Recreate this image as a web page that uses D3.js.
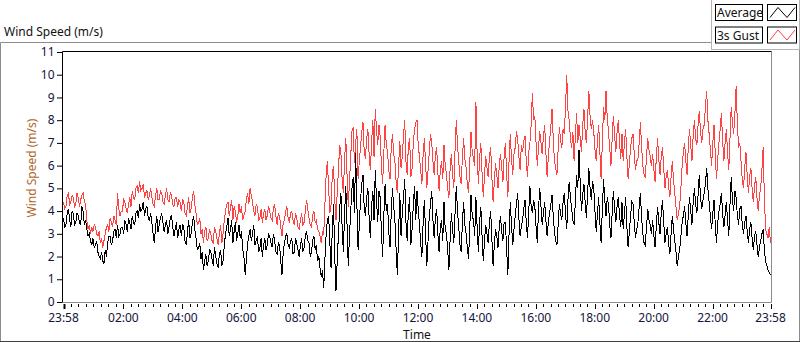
<!DOCTYPE html>
<html>
<head>
<meta charset="utf-8">
<script src="https://cdn.jsdelivr.net/npm/d3@7"></script>
<style>
  body { margin: 0; background: #fff; }
  svg { display: block; font-family: "Segoe UI", "Noto Sans", "Open Sans", sans-serif; }
</style>
</head>
<body>
<div id="chart"></div>
<script>
// series names
var seriesNames = ["Average", "3s Gust"];

// one value every 2.5 minutes, starting 23:58 (one row per hour)
var average = [
    3.7,3.3,3.4,3.9,4.1,3.6,3.3,4.0,3.9,3.4,3.5,3.9,3.8,3.5,3.4,4.2,4.0,3.4,3.6,3.2,2.9,3.0,2.7,2.5,
    2.8,2.4,2.5,2.7,2.2,2.0,1.9,2.2,1.8,1.7,2.3,2.0,2.6,2.9,2.9,2.5,2.7,3.1,3.2,2.8,3.4,2.9,3.0,3.3,
    3.3,3.0,3.6,3.4,3.1,3.7,3.5,3.2,3.8,3.5,3.4,3.9,4.0,3.7,4.3,4.0,4.1,4.4,3.8,4.1,4.2,3.7,3.6,3.9,
    3.5,3.0,2.6,3.3,3.8,3.1,3.4,3.7,3.9,3.5,3.1,3.4,3.6,3.0,3.3,3.7,3.8,3.3,2.9,3.2,3.5,2.8,3.2,3.4,
    2.9,3.4,3.3,2.7,2.5,3.1,3.6,2.8,3.0,3.5,3.8,3.2,2.8,2.3,2.4,2.6,1.9,2.2,1.4,1.8,2.1,1.6,1.8,2.3,
    2.2,1.9,1.6,2.4,2.0,1.7,1.5,2.1,2.3,1.6,1.8,2.5,3.0,3.3,3.7,2.9,3.2,3.6,2.6,3.1,3.5,2.7,3.0,3.4,
    2.8,3.1,2.3,2.0,1.2,1.9,2.6,2.9,3.2,2.7,3.0,3.4,2.5,2.7,2.9,2.2,2.4,2.8,2.0,2.5,2.8,2.3,2.5,3.0,
    2.9,2.6,2.4,3.0,2.7,2.2,2.1,2.6,2.5,1.8,1.2,2.2,2.6,2.9,3.0,2.5,2.4,2.7,2.8,2.1,2.2,2.8,2.6,2.3,
    2.0,2.5,2.8,2.2,2.4,2.9,3.1,2.7,2.6,2.0,2.2,2.7,2.9,2.3,2.5,1.8,2.0,1.5,1.1,1.4,0.6,1.9,3.0,3.6,
    3.8,2.6,1.5,3.2,4.3,2.0,0.5,1.8,3.0,4.1,4.8,3.3,2.2,3.9,5.1,3.4,1.6,2.9,4.0,5.0,5.5,3.9,6.6,4.4,
    2.3,3.4,4.5,5.2,5.6,4.1,3.8,4.6,5.0,3.7,2.8,4.2,4.9,3.6,5.8,4.5,3.5,4.9,4.6,3.1,2.0,3.8,5.2,4.0,
    4.3,3.1,2.4,3.9,5.0,4.2,3.6,2.3,1.2,3.0,4.8,2.9,3.9,4.6,5.4,3.5,2.7,4.0,4.6,2.5,3.2,4.3,5.1,3.6,
    4.9,4.1,3.4,2.6,2.0,3.5,4.5,3.0,1.6,2.7,3.8,4.3,4.9,3.6,2.8,3.7,4.1,3.0,2.2,3.3,3.6,2.7,4.4,3.2,
    3.0,2.3,1.4,2.8,3.9,3.2,2.6,3.9,5.1,4.0,3.3,2.5,2.2,3.5,4.4,3.4,3.0,2.4,1.9,3.3,4.7,3.8,3.6,2.9,
    4.6,3.3,2.2,3.5,4.2,2.9,1.8,2.7,3.4,3.0,2.6,3.5,4.0,2.8,1.6,2.5,3.2,2.9,2.4,3.3,3.8,3.1,2.7,3.5,
    3.5,2.4,1.2,3.0,4.4,3.4,2.5,3.2,3.8,4.3,4.8,3.7,2.9,3.3,3.6,4.1,4.5,3.5,2.8,3.9,5.1,4.2,3.9,4.5,
    4.2,3.3,2.6,4.1,5.0,4.2,3.4,3.9,4.4,3.6,2.9,3.5,3.9,4.3,4.7,3.8,3.1,2.7,2.5,3.4,4.3,3.9,3.6,4.4,
    4.8,3.9,3.2,4.5,5.3,4.6,4.1,3.6,3.4,4.4,5.6,5.0,6.7,5.2,4.0,4.7,5.2,4.4,3.7,4.8,5.9,5.0,4.5,5.3,
    5.0,4.0,3.1,3.9,4.6,3.5,2.6,4.1,5.4,4.5,3.8,4.6,4.3,3.4,2.8,3.9,4.9,4.1,3.5,4.2,4.6,3.8,3.3,4.4,
    3.2,3.9,4.6,3.3,2.4,3.1,3.8,4.4,4.3,3.5,2.8,3.2,3.5,4.2,4.8,3.7,3.0,2.6,2.5,3.3,4.1,3.6,3.4,3.0,
    3.6,2.9,2.4,3.4,4.2,3.5,3.0,3.9,4.5,3.5,2.6,3.0,3.3,2.6,2.1,3.0,3.8,3.2,2.7,2.2,1.6,2.0,2.3,2.9,
    3.5,3.8,4.2,3.5,2.9,3.8,4.6,4.0,3.4,4.4,5.0,4.3,3.9,4.7,5.6,4.6,4.1,4.5,4.8,5.2,5.9,5.0,4.4,3.8,
    3.2,3.9,4.5,3.4,2.6,3.5,4.0,4.3,4.8,3.9,3.3,3.8,4.4,3.6,2.9,4.3,5.5,4.5,4.0,4.9,4.6,3.8,3.4,4.1,
    4.2,3.4,3.0,3.5,3.8,3.1,2.6,3.2,3.5,2.8,2.3,2.9,3.1,2.5,2.0,2.4,2.7,3.0,3.2,2.3,1.8,1.6,1.4,1.3,
    1.2
];

var gust = [
    4.4,4.1,4.2,4.7,4.8,4.3,4.4,4.7,4.6,4.2,4.3,4.8,4.6,4.2,4.5,4.7,4.8,4.4,4.3,3.6,3.2,3.4,3.0,3.3,
    3.1,3.4,3.3,3.0,2.9,3.1,2.6,2.8,2.4,2.7,3.0,3.3,3.4,3.1,3.7,3.5,3.3,3.8,3.6,3.4,4.8,4.1,3.8,4.0,
    4.0,4.5,4.4,4.1,3.9,4.3,4.6,4.2,4.9,4.6,4.5,5.0,5.1,4.8,5.3,4.9,5.0,5.2,4.6,4.8,4.9,4.5,4.7,5.0,
    4.6,4.3,4.2,4.7,5.0,4.5,4.5,4.9,4.8,4.4,4.3,4.7,5.0,4.5,4.4,4.8,4.7,4.3,4.2,4.6,4.6,4.2,4.5,4.4,
    4.0,4.5,4.4,3.9,3.8,4.2,4.6,3.9,4.1,4.6,4.9,4.3,3.9,3.4,3.5,3.7,3.0,3.2,2.6,3.1,3.3,2.7,2.8,3.2,
    3.0,2.7,2.6,3.3,3.1,2.8,2.5,3.0,3.4,2.6,3.0,3.6,4.0,4.3,4.4,3.8,4.1,4.5,3.6,4.2,4.0,3.5,3.8,4.3,
    3.9,4.2,3.6,3.8,4.0,4.5,4.8,4.3,5.0,4.7,4.4,4.0,3.8,4.3,4.2,3.6,3.7,4.1,3.5,3.9,4.1,3.6,3.8,4.2,
    4.0,3.7,3.6,4.1,4.3,3.8,3.4,3.9,3.8,3.3,2.9,3.5,3.6,4.0,4.2,3.7,3.5,3.9,4.0,3.6,3.4,3.9,3.7,3.3,
    3.2,3.6,3.9,3.4,3.5,4.0,4.5,4.1,3.7,3.4,3.3,3.8,4.0,3.5,3.6,3.2,3.1,2.9,2.6,3.1,3.0,4.3,5.6,6.2,
    5.0,3.9,4.3,5.6,6.0,4.5,3.6,4.8,5.8,6.9,6.6,5.4,4.8,6.3,7.2,5.6,4.2,5.3,6.4,7.5,7.7,6.1,7.0,7.6,
    5.4,6.2,6.8,7.5,7.9,6.6,6.3,7.2,7.6,6.5,5.8,7.0,8.0,6.4,8.5,7.6,6.9,7.8,7.3,6.0,5.2,6.6,7.8,6.9,
    6.6,5.8,5.4,6.8,7.4,6.5,6.2,5.3,4.8,6.0,7.1,5.9,6.4,7.3,8.0,6.2,5.6,6.9,7.2,5.5,5.9,7.0,7.6,7.9,
    8.0,6.9,6.4,5.8,5.2,6.5,7.2,6.1,5.0,5.8,6.6,7.4,7.0,6.2,5.6,6.5,6.8,5.7,4.9,5.8,6.2,5.4,6.9,6.0,
    5.6,5.0,4.6,5.9,6.5,5.6,5.0,6.7,8.0,6.9,6.2,5.5,5.2,6.4,7.2,6.3,5.9,5.2,4.8,6.1,7.5,6.6,6.3,6.0,
    8.8,6.5,5.2,6.3,7.0,5.7,4.6,5.6,6.4,5.9,5.5,6.4,6.8,5.5,4.4,5.3,6.1,5.6,5.0,6.0,6.5,5.9,5.3,6.4,
    7.0,5.7,4.6,6.2,7.4,6.3,5.6,6.5,6.8,7.5,7.2,6.4,5.8,6.9,6.6,7.1,7.3,6.2,5.5,6.6,7.0,7.8,9.2,8.0,
    8.2,7.0,6.0,6.8,7.5,7.0,6.5,7.3,7.8,6.6,5.5,6.4,7.1,7.7,8.5,7.2,6.2,5.9,5.6,6.7,7.7,7.1,6.8,7.6,
    7.4,8.6,10.0,8.4,8.0,7.2,6.8,7.5,6.2,7.3,8.3,7.0,7.8,7.2,6.6,7.8,8.5,7.5,7.0,8.1,9.3,8.2,7.6,8.0,
    7.5,6.7,6.2,7.1,7.8,6.6,5.4,7.0,8.6,8.0,9.3,8.1,7.5,6.8,6.0,7.2,8.2,7.3,6.6,7.5,8.0,7.0,6.3,7.4,
    6.2,7.0,7.6,6.4,5.4,6.1,6.8,7.2,7.4,6.5,5.8,6.2,6.3,7.0,7.9,6.8,6.0,5.6,5.5,6.4,7.2,6.7,6.4,6.0,
    6.5,5.8,5.3,6.4,7.2,6.3,5.6,6.4,6.8,5.9,5.0,5.5,5.8,5.1,4.6,5.5,6.2,5.4,4.8,4.2,3.6,3.9,4.2,5.0,
    6.0,6.6,7.0,6.2,5.6,6.8,7.6,6.9,6.2,7.3,8.0,7.2,6.9,7.8,8.4,7.5,7.0,7.6,7.8,8.6,9.3,8.0,7.4,6.7,
    6.0,7.0,7.8,6.5,5.4,6.3,7.0,7.6,8.3,7.1,6.2,7.0,7.6,6.6,5.8,7.2,8.6,7.9,7.4,8.3,9.5,7.9,6.8,7.0,
    6.2,5.4,5.0,5.9,6.6,5.6,4.8,5.5,5.9,5.0,4.4,5.1,5.5,4.6,4.0,4.7,5.0,5.8,6.8,4.6,3.2,3.0,2.8,3.3,
    2.6
];

// axis labels
var yTicks = [0,1,2,3,4,5,6,7,8,9,10,11];
var xLabelHours = [2,4,6,8,10,12,14,16,18,20,22];

var stepMinutes = 2.5;
var start = new Date(2000, 0, 1, 23, 58);
var end = new Date(2000, 0, 2, 23, 58);

var width = 800, height = 342;
var plot = { left: 62.5, right: 771.5, top: 51.5, bottom: 302.5 };
var fontStack = '"Segoe UI", "Noto Sans", "Open Sans", sans-serif';

var svg = d3.select("#chart").append("svg")
    .attr("width", width)
    .attr("height", height);

// outer panel
svg.append("path")
    .attr("d", "M0.5,42.5 H711.5 V49.5 H799.5 V341.5 H0.5 Z")
    .style("fill", "none")
    .style("stroke", "#8c8c8c");
svg.append("line")
    .attr("x1", 0).attr("x2", 800).attr("y1", 341.5).attr("y2", 341.5)
    .style("stroke", "#404040");
svg.append("path")
    .attr("d", "M711.5,0 V49.5 H799.5 V0")
    .style("fill", "none")
    .style("stroke", "#b4b4b4");

// chart title
svg.append("text")
    .attr("x", 4)
    .attr("y", 36)
    .style("font-size", "12px")
    .style("fill", "#111")
    .text("Wind Speed (m/s)");

var x = d3.scaleTime()
    .domain([start, end])
    .range([63.5, 770.5]);

var y = d3.scaleLinear()
    .domain([0, 11])
    .range([302, 52]);

// plot frame
svg.append("rect")
    .attr("x", plot.left).attr("y", plot.top)
    .attr("width", plot.right - plot.left)
    .attr("height", plot.bottom - plot.top)
    .style("fill", "#fff")
    .style("stroke", "none");
svg.append("path")
    .attr("d", "M" + plot.left + "," + plot.bottom + " H" + plot.right + " V" + plot.top)
    .style("fill", "none")
    .style("stroke", "#8c8c8c");
svg.append("path")
    .attr("d", "M" + plot.left + "," + plot.bottom + " V" + plot.top + " H" + plot.right)
    .style("fill", "none")
    .style("stroke", "#000");

// y axis
var yAxis = svg.append("g")
    .attr("transform", "translate(" + plot.left + ",0)")
    .call(d3.axisLeft(y).tickValues(yTicks).tickSize(5).tickPadding(3).tickFormat(d3.format("d")));
yAxis.select(".domain").remove();
yAxis.selectAll("line").style("stroke", "#000").attr("transform", "translate(-0.5,0)");
yAxis.selectAll("text")
    .attr("dy", "0.3em")
    .style("font-family", fontStack)
    .style("font-size", "12px")
    .style("fill", "#14143c");

svg.append("text")
    .attr("transform", "translate(36,168) rotate(-90)")
    .attr("text-anchor", "middle")
    .style("font-size", "12px")
    .style("fill", "#b0662a")
    .text("Wind Speed (m/s)");

// x axis: major ticks at the ends and every two hours, 7 minor ticks between
var majors = [start].concat(xLabelHours.map(function(h) {
    return new Date(2000, 0, 2, h, 0);
})).concat([end]);

var minors = [];
for (var i = 0; i < majors.length - 1; i++) {
    var a = +majors[i], b = +majors[i + 1];
    for (var k = 1; k < 8; k++) {
        minors.push(new Date(a + (b - a) * k / 8));
    }
}

var formatTime = d3.timeFormat("%H:%M");

var xAxis = svg.append("g")
    .attr("transform", "translate(0," + (plot.bottom + 0.5) + ")");

xAxis.selectAll(".minor")
    .data(minors)
    .enter().append("line")
    .attr("class", "minor")
    .attr("x1", function(d) { return Math.round(x(d)) + 0.5; })
    .attr("x2", function(d) { return Math.round(x(d)) + 0.5; })
    .attr("y1", 1).attr("y2", 4)
    .style("stroke", "#000");

xAxis.selectAll(".major")
    .data(majors)
    .enter().append("line")
    .attr("class", "major")
    .attr("x1", function(d) { return Math.round(x(d)) + 0.5; })
    .attr("x2", function(d) { return Math.round(x(d)) + 0.5; })
    .attr("y1", 1).attr("y2", 6)
    .style("stroke", "#000")
    .style("stroke-width", function(d, i) { return i == 0 ? 2 : 1; });

xAxis.selectAll(".label")
    .data(majors)
    .enter().append("text")
    .attr("class", "label")
    .attr("x", function(d) { return x(d); })
    .attr("y", 18.5)
    .attr("text-anchor", "middle")
    .style("font-size", "12px")
    .style("fill", "#14143c")
    .text(function(d) { return formatTime(d); });

svg.append("text")
    .attr("x", 417)
    .attr("y", 338.5)
    .attr("text-anchor", "middle")
    .style("font-size", "12px")
    .style("fill", "#111")
    .text("Time");

// the two traces
var line = d3.line()
    .x(function(d, i) { return x(new Date(+start + i * stepMinutes * 60000)); })
    .y(function(d) { return y(d); });

var plotG = svg.append("g");

plotG.append("path")
    .datum(average)
    .attr("d", line)
    .style("fill", "none")
    .style("stroke", "#000")
    .style("stroke-width", 1)
    .style("shape-rendering", "crispEdges");

plotG.append("path")
    .datum(gust)
    .attr("d", line)
    .style("fill", "none")
    .style("stroke", "#ff4242")
    .style("stroke-width", 1)
    .style("shape-rendering", "crispEdges");

// legend
var legendColors = ["#000", "#ff4242"];
var legend = svg.append("g");

seriesNames.forEach(function(name, i) {
    var top = 4.5 + i * 22.5;
    legend.append("rect")
        .attr("x", 715.5).attr("y", top)
        .attr("width", 47).attr("height", 16)
        .style("fill", "#fff")
        .style("stroke", "#000");
    legend.append("text")
        .attr("x", 717)
        .attr("y", top + 12.5)
        .style("font-size", "12px")
        .style("fill", "#111")
        .text(name);
    legend.append("rect")
        .attr("x", 767.5).attr("y", top)
        .attr("width", 29).attr("height", 16)
        .style("fill", "#fff")
        .style("stroke", "#000");
    legend.append("polyline")
        .attr("points", [[770, top + 13], [778, top + 3], [787, top + 13], [795, top + 3]].join(" "))
        .style("fill", "none")
        .style("stroke", legendColors[i]);
});
</script>
</body>
</html>
